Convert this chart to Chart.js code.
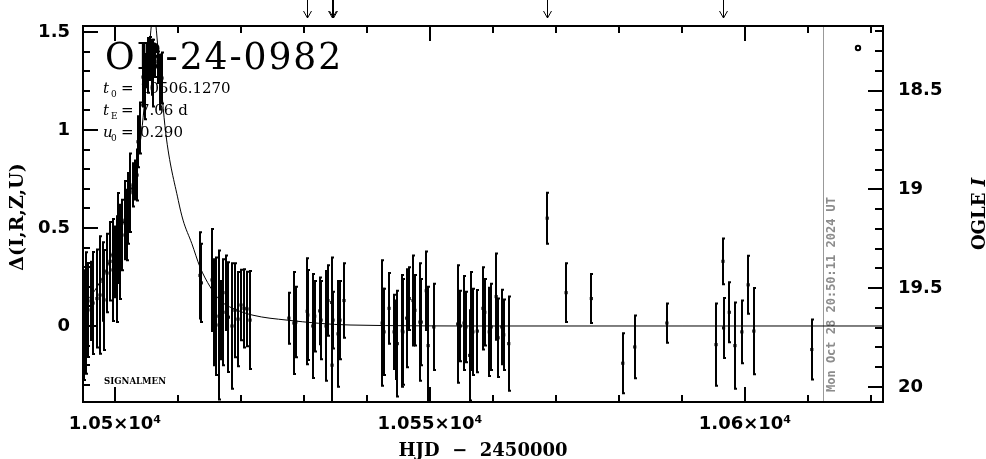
<!DOCTYPE html>
<html>
<head>
<meta charset="utf-8">
<script src="https://cdn.jsdelivr.net/npm/chart.js@4/dist/chart.umd.min.js"></script>
<style>
  body { margin: 0; background: #fff; }
  canvas { display: block; }
</style>
</head>
<body>
<canvas id="lc" width="986" height="459"></canvas>
<script>
// photometry: HJD-2450000, delta flux, error
const hjd = [
  10495.08, 10495.40, 10495.71, 10496.51, 10497.14, 10497.62, 10498.10, 10498.73, 10499.21, 10499.68,
  10500.00, 10500.32, 10500.48, 10501.11, 10501.59, 10502.06, 10502.38, 10502.86, 10503.17, 10503.65,
  10503.97, 10504.44, 10505.08, 10505.24, 10505.56, 10506.03, 10506.35, 10506.83, 10507.46,
  10513.49, 10513.70, 10515.40, 10515.71, 10516.51, 10517.14, 10517.62, 10518.00, 10518.57, 10519.05,
  10519.52, 10520.48, 10520.95, 10521.43,
  10527.6, 10528.4, 10528.7, 10530.5, 10531.4, 10532.5, 10533.5, 10534.4, 10534.45, 10534.6,
  10535.4, 10536.35,
  10542.4, 10542.6, 10543.5, 10544.3, 10544.8, 10545.6, 10546.3, 10547.3, 10548.4, 10549.4,
  10549.7, 10550.6,
  10554.4, 10555.4, 10555.7, 10556.3, 10556.5, 10557.5, 10558.4, 10559.4, 10560.5, 10560.8,
  10561.4, 10562.5,
  10568.6, 10571.6, 10575.6, 10580.6, 10582.5, 10587.6, 10595.4, 10596.5, 10596.6, 10597.5,
  10598.4, 10599.5, 10600.5, 10601.4, 10610.6,
  10530.6, 10531.7, 10532.7, 10533.8, 10535.7, 10542.7, 10544.6, 10545.7, 10546.7, 10547.6,
  10548.6, 10554.8, 10556.8, 10558.7, 10559.7, 10561.7, 10516.03, 10516.8, 10520.0, 10496.2,
  10498.25, 10500.8, 10501.9, 10503.5, 10504.76, 10505.87, 10507.14
];
const dmag = [
  0.005, 0.066, 0.082, 0.117, 0.14, 0.158, 0.227, 0.27, 0.33, 0.286,
  0.327, 0.29, 0.449, 0.464, 0.54, 0.60, 0.68, 0.72, 0.745, 0.94,
  1.01, 1.27, 1.33, 1.33, 1.365, 1.29, 1.35, 1.32, 1.265,
  0.258, 0.22, 0.235, 0.07, 0.005, 0.07, 0.17, 0.045, 0.0, 0.08,
  0.035, 0.09, 0.087, 0.03,
  0.04, 0.015, 0.02, 0.075, 0.0, 0.077, 0.0, 0.12, -0.2, 0.03,
  -0.04, 0.13,
  0.015, 0.04, 0.09, -0.03, -0.09, -0.025, 0.04, 0.13, 0.02, 0.18,
  -0.1, -0.005,
  0.01, 0.015, -0.005, -0.15, 0.025, -0.026, 0.09, -0.03, 0.15, -0.06,
  -0.005, -0.09,
  0.55, 0.17, 0.14, -0.19, -0.107, 0.015, -0.095, 0.33, -0.01, 0.07,
  -0.1, -0.03, 0.21, -0.026, -0.12,
  0.056, 0.05, 0.03, 0.13, 0.03, -0.03, -0.07, -0.03, 0.14, 0.08,
  0.02, 0.0, -0.03, 0.07, -0.005, -0.045, 0.05, 0.03, 0.107, 0.128,
  0.133, 0.378, 0.515, 0.77, 1.22, 1.32, 1.245
];
const derr = [
  0.28, 0.31, 0.24, 0.26, 0.25, 0.30, 0.20, 0.20, 0.20, 0.26,
  0.18, 0.27, 0.23, 0.18, 0.20, 0.18, 0.20, 0.11, 0.10, 0.13,
  0.13, 0.15, 0.11, 0.14, 0.11, 0.17, 0.08, 0.08, 0.13,
  0.22, 0.20, 0.26, 0.27, 0.38, 0.27, 0.19, 0.28, 0.32, 0.24,
  0.24, 0.20, 0.19, 0.25,
  0.13, 0.26, 0.18, 0.27, 0.265, 0.17, 0.28, 0.23, 0.20, 0.145,
  0.27, 0.19,
  0.32, 0.15, 0.18, 0.19, 0.27, 0.285, 0.25, 0.23, 0.30, 0.20,
  0.30, 0.22,
  0.30, 0.24, 0.18, 0.23, 0.25, 0.21, 0.21, 0.225, 0.22, 0.20,
  0.19, 0.24,
  0.13, 0.15, 0.125, 0.153, 0.16, 0.10, 0.21, 0.117, 0.153, 0.153,
  0.22, 0.16, 0.148, 0.22, 0.153,
  0.23, 0.18, 0.20, 0.18, 0.20, 0.22, 0.20, 0.27, 0.16, 0.18,
  0.22, 0.18, 0.22, 0.17, 0.22, 0.18, 0.30, 0.20, 0.18, 0.20,
  0.255, 0.24, 0.18, 0.13, 0.165, 0.14, 0.14
];

// model curve
const modelT = [10494.9, 10495.56, 10497.16, 10498.76, 10500.06, 10501.46, 10502.21, 10504.2, 10505.26, 10506.13,
  10507.0, 10508.05, 10510.05, 10510.8, 10512.2, 10513.5, 10515.1, 10516.7, 10518.7, 10521.9,
  10527.3, 10537.3, 10560, 10590, 10621.9];
const modelD = [0.11, 0.13, 0.20, 0.30, 0.42, 0.54, 0.64, 0.985, 1.35, 1.6,
  1.35, 0.985, 0.64, 0.54, 0.42, 0.30, 0.20, 0.13, 0.09, 0.055,
  0.03, 0.005, 0, 0, 0];

const xTickVals = [10500, 10550, 10600];
const xTickLabels = ['1.05×10⁴', '1.055×10⁴', '1.06×10⁴'];
const yTickVals = [0, 0.5, 1, 1.5];
const yTickLabels = ['0', '0.5', '1', '1.5'];
const magTickVals = [18.5, 19, 19.5, 20];
const magTickLabels = ['18.5', '19', '19.5', '20'];

const arrowHjd = [10530.5, 10534.45, 10534.65, 10568.5, 10596.5];
const nowHjd = 10612.4;
const stampText = 'Mon Oct 28 20:50:11 2024 UT';
const eventName = 'OB-24-0982';
const params = [
  { sym: 't', sub: '0', val: '10506.1270' },
  { sym: 't', sub: 'E', val: '7.06 d' },
  { sym: 'u', sub: '0', val: '0.290' }
];

const decor = {
  id: 'decor',
  beforeDraw(chart) {
    const c = chart.ctx;
    c.save();
    c.fillStyle = '#fff';
    c.fillRect(0, 0, chart.width, chart.height);
    c.restore();
  },
  beforeDatasetsDraw(chart) {
    const c = chart.ctx, a = chart.chartArea, xs = chart.scales.x;
    c.save();
    // date line and stamp
    const nx = Math.round(xs.getPixelForValue(nowHjd)) + 0.5;
    c.strokeStyle = '#999';
    c.lineWidth = 1;
    c.beginPath(); c.moveTo(nx, a.top); c.lineTo(nx, a.bottom); c.stroke();
    c.save();
    c.translate(835, 392);
    c.rotate(-Math.PI / 2);
    c.fillStyle = '#8c8c8c';
    c.font = 'bold 12px "DejaVu Sans Mono"';
    c.textAlign = 'left';
    c.textBaseline = 'alphabetic';
    c.fillText(stampText, 0, 0, 202);
    c.restore();

    // event name
    c.fillStyle = '#000';
    c.textAlign = 'left';
    c.textBaseline = 'alphabetic';
    c.font = '38px "DejaVu Serif"';
    c.letterSpacing = '2px';
    c.fillText(eventName, 105, 69, 238);
    c.letterSpacing = '0px';

    // fit parameters
    params.forEach((p, i) => {
      const by = 93 + i * 22;
      c.font = 'italic 15px "DejaVu Serif"';
      c.fillText(p.sym, 103, by);
      c.font = '9px "DejaVu Serif"';
      c.fillText(p.sub, 111, by + 4);
      c.font = '15px "DejaVu Serif"';
      c.fillText('=', 121, by);
      c.fillText(p.val, 140, by);
    });

    c.font = 'bold 9px "DejaVu Serif"';
    c.fillText('SIGNALMEN', 104, 384, 62);

    c.lineWidth = 2;
    c.strokeStyle = '#000';
    c.beginPath(); c.arc(858, 48, 2.2, 0, Math.PI * 2); c.stroke();
    c.restore();
  },
  afterDatasetsDraw(chart) {
    const c = chart.ctx, a = chart.chartArea, xs = chart.scales.x, ys = chart.scales.y;
    c.save();
    c.beginPath(); c.rect(a.left, a.top, a.right - a.left, a.bottom - a.top); c.clip();
    c.strokeStyle = '#000';
    c.lineWidth = 2;
    hjd.forEach((t, i) => {
      const px = Math.round(xs.getPixelForValue(t));
      const top = ys.getPixelForValue(dmag[i] + derr[i]);
      const bot = ys.getPixelForValue(dmag[i] - derr[i]);
      c.beginPath();
      c.moveTo(px, top); c.lineTo(px, bot);
      c.moveTo(px - 1, top); c.lineTo(px + 2, top);
      c.moveTo(px - 1, bot); c.lineTo(px + 2, bot);
      c.stroke();
    });
    c.restore();
  },
  afterDraw(chart) {
    const c = chart.ctx, a = chart.chartArea;
    const xs = chart.scales.x, ys = chart.scales.y, ms = chart.scales.y2;
    c.save();
    c.strokeStyle = '#000';
    c.lineWidth = 2;
    c.strokeRect(a.left, a.top, a.right - a.left, a.bottom - a.top);
    c.beginPath();
    for (let t = 10500; t <= 10620; t += 10) {
      const px = Math.round(xs.getPixelForValue(t));
      const len = t % 50 === 0 ? 15 : 7;
      c.moveTo(px, a.bottom); c.lineTo(px, a.bottom - len);
      c.moveTo(px, a.top); c.lineTo(px, a.top + len);
    }
    for (let k = -3; k <= 15; k++) {
      const py = Math.round(ys.getPixelForValue(k / 10));
      const len = k % 5 === 0 ? 15 : 7;
      c.moveTo(a.left, py); c.lineTo(a.left + len, py);
    }
    for (let k = 182; k <= 200; k++) {
      const py = Math.round(ms.getPixelForValue(k / 10));
      const len = k % 5 === 0 ? 15 : 8;
      c.moveTo(a.right, py); c.lineTo(a.right - len, py);
    }
    c.stroke();

    // arrows above the frame
    c.lineWidth = 1;
    c.beginPath();
    arrowHjd.forEach(t => {
      const px = Math.round(xs.getPixelForValue(t)) + 0.5;
      c.moveTo(px, 0); c.lineTo(px, 18);
      c.moveTo(px - 4, 11); c.lineTo(px, 18); c.lineTo(px + 4, 11);
    });
    c.stroke();

    // axis titles
    c.fillStyle = '#000';
    c.textBaseline = 'alphabetic';
    c.textAlign = 'center';
    c.font = 'bold 18px "DejaVu Serif"';
    c.fillText('HJD  −  2450000', 483, 456, 176);

    c.save();
    c.translate(23, 217);
    c.rotate(-Math.PI / 2);
    c.font = 'bold 19px "DejaVu Serif"';
    c.fillText('Δ(I,R,Z,U)', 0, 0, 112);
    c.restore();

    c.save();
    c.translate(985, 214);
    c.rotate(-Math.PI / 2);
    c.textAlign = 'left';
    c.font = 'bold 18px "DejaVu Serif"';
    const w1 = c.measureText('OGLE ').width;
    c.font = 'bold italic 18px "DejaVu Serif"';
    const w2 = c.measureText('I').width;
    const x0 = -(w1 + w2) / 2;
    c.font = 'bold 18px "DejaVu Serif"';
    c.fillText('OGLE ', x0, 0);
    c.font = 'bold italic 18px "DejaVu Serif"';
    c.fillText('I', x0 + w1, 0);
    c.restore();
    c.restore();
  }
};

const tickFont = { family: 'DejaVu Sans', weight: 'bold', size: 18 };

new Chart(document.getElementById('lc'), {
  type: 'scatter',
  data: {
    datasets: [
      {
        label: 'model',
        data: modelT.map((t, i) => ({ x: t, y: modelD[i] })),
        showLine: true,
        borderColor: '#000',
        borderWidth: 1,
        pointRadius: 0,
        cubicInterpolationMode: 'monotone',
        yAxisID: 'y'
      },
      {
        label: 'OGLE',
        data: hjd.map((t, i) => ({ x: t, y: dmag[i] })),
        pointStyle: 'rect',
        pointRadius: 2.2,
        backgroundColor: '#000',
        borderWidth: 0,
        yAxisID: 'y'
      }
    ]
  },
  options: {
    responsive: false,
    animation: false,
    devicePixelRatio: 1,
    layout: { padding: { top: 26, left: 0, right: 0, bottom: 0 } },
    plugins: { legend: { display: false }, tooltip: { enabled: false } },
    scales: {
      x: {
        type: 'linear',
        position: 'bottom',
        min: 10494.92,
        max: 10621.9,
        grid: { display: false, drawTicks: false },
        border: { display: false },
        afterBuildTicks: s => { s.ticks = xTickVals.map(v => ({ value: v })); },
        afterFit: s => { s.height = 57; },
        ticks: {
          padding: 12,
          maxRotation: 0,
          autoSkip: false,
          color: '#000',
          font: tickFont,
          callback: v => xTickLabels[xTickVals.indexOf(v)]
        }
      },
      y: {
        type: 'linear',
        position: 'left',
        min: -0.3878,
        max: 1.5306,
        grid: { display: false, drawTicks: false },
        border: { display: false },
        afterBuildTicks: s => { s.ticks = yTickVals.map(v => ({ value: v })); },
        afterFit: s => { s.width = 83; },
        ticks: {
          padding: 13,
          autoSkip: false,
          color: '#000',
          font: tickFont,
          callback: v => yTickLabels[yTickVals.indexOf(v)]
        }
      },
      y2: {
        type: 'linear',
        position: 'right',
        reverse: true,
        min: 18.1724,
        max: 20.076,
        grid: { display: false, drawTicks: false },
        border: { display: false },
        afterBuildTicks: s => { s.ticks = magTickVals.map(v => ({ value: v })); },
        afterFit: s => { s.width = 103; },
        ticks: {
          padding: 15,
          autoSkip: false,
          color: '#000',
          font: tickFont,
          callback: v => magTickLabels[magTickVals.indexOf(v)]
        }
      }
    }
  },
  plugins: [decor]
});
</script>
</body>
</html>
